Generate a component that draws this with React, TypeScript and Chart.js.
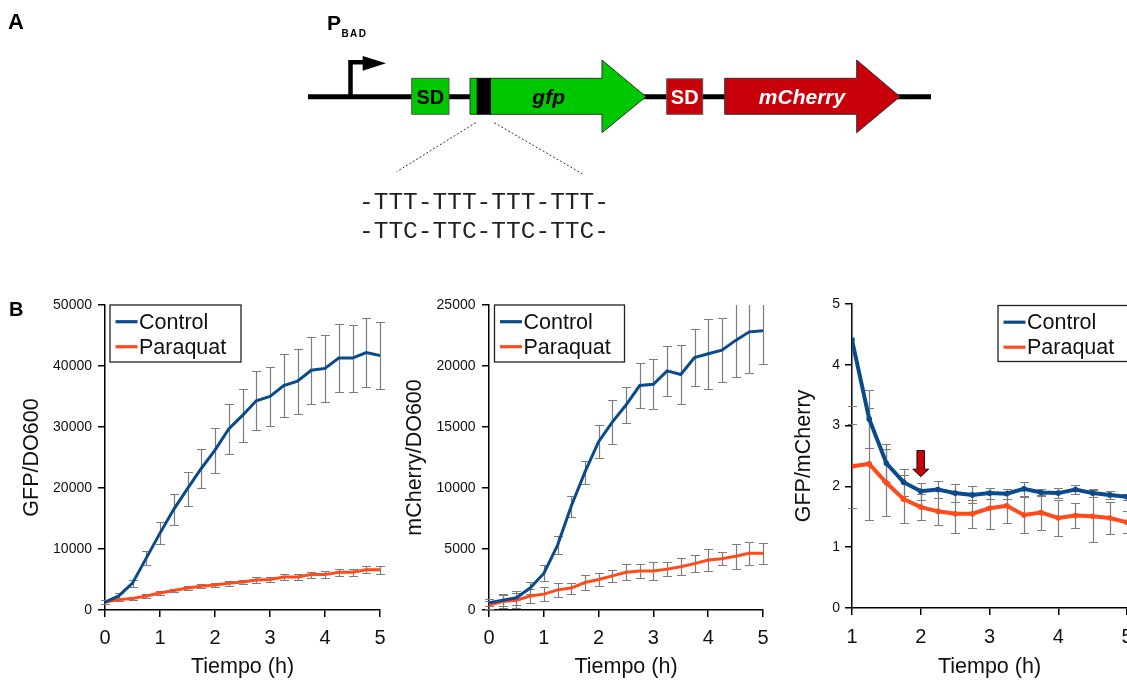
import React, { useEffect, useRef } from 'react';
import { Chart, registerables } from 'chart.js';

Chart.register(...registerables);

const FONT = '"Liberation Sans", Arial, Helvetica, sans-serif';
const CONTROL_COLOR = '#0B4A8B';
const PARAQUAT_COLOR = '#FF4A1C';
const ERR_COLOR = '#7d7d7d';

// ---------- data ----------
const seriesLabels = ['Control', 'Paraquat'];
const xAxisTitle = 'Tiempo (h)';

const timeH = [0, 0.25, 0.5, 0.75, 1, 1.25, 1.5, 1.75, 2, 2.25, 2.5, 2.75, 3, 3.25, 3.5, 3.75, 4, 4.25, 4.5, 4.75, 5];

const gfpControl = [1300, 2300, 4400, 8500, 12600, 16500, 19900, 23200, 26200, 29700, 31900, 34300, 35000, 36800, 37500, 39300, 39600, 41300, 41300, 42200, 41700];
const gfpControlErr = [300, 500, 600, 1100, 1800, 2500, 2800, 3200, 3700, 4100, 4400, 4800, 4900, 5200, 5300, 5500, 5500, 5600, 5500, 5650, 5550];
const gfpParaquat = [1300, 1700, 1900, 2300, 2800, 3200, 3600, 3900, 4100, 4400, 4600, 4900, 5000, 5400, 5400, 5800, 5800, 6200, 6200, 6600, 6600];
const gfpParaquatErr = [300, 300, 300, 300, 300, 300, 350, 350, 350, 400, 400, 450, 450, 450, 450, 500, 550, 550, 600, 600, 650];

const mchControl = [600, 800, 1000, 1800, 3000, 5300, 8500, 11300, 13800, 15400, 16800, 18400, 18500, 19600, 19300, 20700, 21000, 21300, 22100, 22800, 22900];
const mchControlErr = [300, 500, 550, 500, 650, 750, 850, 950, 1350, 1800, 1500, 1850, 2050, 2050, 2450, 2300, 2850, 2650, 3000, 3400, 2700];
const mchParaquat = [400, 700, 800, 1150, 1300, 1650, 1800, 2250, 2500, 2800, 3100, 3200, 3200, 3350, 3550, 3800, 4100, 4200, 4400, 4650, 4650];
const mchParaquatErr = [300, 500, 600, 600, 600, 550, 450, 600, 500, 500, 650, 600, 750, 550, 700, 700, 900, 550, 1000, 950, 850];

const ratioTimeH = [1, 1.25, 1.5, 1.75, 2, 2.25, 2.5, 2.75, 3, 3.25, 3.5, 3.75, 4, 4.25, 4.5, 4.75, 5];
const ratioControl = [4.41, 3.11, 2.38, 2.07, 1.92, 1.95, 1.89, 1.86, 1.89, 1.88, 1.96, 1.9, 1.89, 1.95, 1.89, 1.86, 1.83];
const ratioControlErr = [1.09, 0.48, 0.31, 0.22, 0.14, 0.14, 0.15, 0.14, 0.09, 0.08, 0.12, 0.05, 0.08, 0.08, 0.06, 0.06, 0.05];
const ratioParaquat = [2.33, 2.37, 2.06, 1.79, 1.66, 1.59, 1.55, 1.55, 1.64, 1.68, 1.53, 1.57, 1.48, 1.52, 1.51, 1.48, 1.41];
const ratioParaquatErr = [0.69, 0.92, 0.55, 0.4, 0.21, 0.22, 0.32, 0.23, 0.34, 0.28, 0.3, 0.29, 0.3, 0.2, 0.43, 0.26, 0.18];

// paraquat addition marker (x in h, arrow from / to in y units)
const markerTime = 2;
const markerFrom = 2.59;
const markerTo = 2.16;

const seqRow1 = '-TTT-TTT-TTT-TTT-';
const seqRow2 = '-TTC-TTC-TTC-TTC-';

// ---------- plugins ----------
const errorBarPlugin = {
  id: 'errorBars',
  beforeDatasetsDraw(chart: any) {
    const { ctx, chartArea, scales } = chart;
    const xs = scales.x;
    const ys = scales.y;
    ctx.save();
    ctx.beginPath();
    ctx.rect(0, chartArea.top, chart.width, chartArea.bottom - chartArea.top);
    ctx.clip();
    ctx.strokeStyle = ERR_COLOR;
    ctx.lineWidth = 1.2;
    chart.data.datasets.forEach((ds: any) => {
      const errs = ds.errors as number[] | undefined;
      if (!errs) return;
      ds.data.forEach((pt: any, i: number) => {
        const px = Math.round(xs.getPixelForValue(pt.x)) + 0.5;
        const top = Math.round(ys.getPixelForValue(pt.y + errs[i])) + 0.5;
        const bot = Math.round(ys.getPixelForValue(pt.y - errs[i])) + 0.5;
        const cap = 4.5;
        ctx.beginPath();
        ctx.moveTo(px, top);
        ctx.lineTo(px, bot);
        ctx.moveTo(px - cap, top);
        ctx.lineTo(px + cap, top);
        ctx.moveTo(px - cap, bot);
        ctx.lineTo(px + cap, bot);
        ctx.stroke();
      });
    });
    ctx.restore();
  },
};

const boxLegendPlugin = {
  id: 'boxLegend',
  afterDraw(chart: any, _args: any, opts: any) {
    if (!opts || !opts.show) return;
    const { ctx, chartArea } = chart;
    const x0 = opts.side === 'right' ? chartArea.right - opts.w + opts.dx : chartArea.left + opts.dx;
    const y0 = chartArea.top + opts.dy;
    ctx.save();
    ctx.fillStyle = '#ffffff';
    ctx.fillRect(x0, y0, opts.w, opts.h);
    ctx.strokeStyle = '#222222';
    ctx.lineWidth = 1.3;
    ctx.strokeRect(x0, y0, opts.w, opts.h);
    ctx.font = `21.5px ${FONT}`;
    ctx.textBaseline = 'middle';
    ctx.textAlign = 'left';
    chart.data.datasets.forEach((ds: any, i: number) => {
      const cy = y0 + 16.7 + i * 25;
      ctx.strokeStyle = ds.borderColor;
      ctx.lineWidth = 3.2;
      ctx.beginPath();
      ctx.moveTo(x0 + 5.5, cy);
      ctx.lineTo(x0 + 27.5, cy);
      ctx.stroke();
      ctx.fillStyle = '#111111';
      ctx.fillText(ds.label, x0 + 29, cy + 1);
    });
    ctx.restore();
  },
};

const markerArrowPlugin = {
  id: 'markerArrow',
  afterDatasetsDraw(chart: any, _args: any, opts: any) {
    if (!opts || !opts.show) return;
    const { ctx, scales } = chart;
    const cx = scales.x.getPixelForValue(opts.x);
    const top = scales.y.getPixelForValue(opts.from);
    const tip = scales.y.getPixelForValue(opts.to);
    const headTop = tip - 7.5;
    ctx.save();
    ctx.beginPath();
    ctx.moveTo(cx - 3.8, top);
    ctx.lineTo(cx + 3.8, top);
    ctx.lineTo(cx + 3.8, headTop);
    ctx.lineTo(cx + 8, headTop);
    ctx.lineTo(cx, tip);
    ctx.lineTo(cx - 8, headTop);
    ctx.lineTo(cx - 3.8, headTop);
    ctx.closePath();
    ctx.fillStyle = '#C8000A';
    ctx.fill();
    ctx.strokeStyle = '#111';
    ctx.lineWidth = 1;
    ctx.stroke();
    ctx.restore();
  },
};

// ---------- panel ----------
type Spec = {
  left: number; top: number; width: number; height: number;
  padding: { top: number; right: number; bottom: number; left: number };
  yWidth: number; xHeight: number;
  xMin: number; xMax: number; yMax: number; yStep: number;
  yTitle: string; yTitlePad: number; yLabelPad: number; xLabelPad: number;
  lineWidth: number; pointRadius: number;
  xs: number[]; control: number[]; controlErr: number[]; paraquat: number[]; paraquatErr: number[];
  legend: { side: string; dx: number; dy: number; w: number; h: number };
  arrow?: { x: number; from: number; to: number };
};

function Panel({ spec }: { spec: Spec }) {
  const ref = useRef<HTMLCanvasElement | null>(null);
  useEffect(() => {
    if (!ref.current) return;
    const mk = (vals: number[]) => spec.xs.map((x, i) => ({ x, y: vals[i] }));
    const chart = new Chart(ref.current, {
      type: 'line',
      data: {
        datasets: [
          {
            label: seriesLabels[0],
            data: mk(spec.control),
            errors: spec.controlErr,
            borderColor: CONTROL_COLOR,
            backgroundColor: CONTROL_COLOR,
            borderWidth: spec.lineWidth,
            pointRadius: spec.pointRadius,
            pointBorderWidth: 0,
            pointBackgroundColor: CONTROL_COLOR,
            tension: 0,
          } as any,
          {
            label: seriesLabels[1],
            data: mk(spec.paraquat),
            errors: spec.paraquatErr,
            borderColor: PARAQUAT_COLOR,
            backgroundColor: PARAQUAT_COLOR,
            borderWidth: spec.lineWidth,
            pointRadius: spec.pointRadius,
            pointBorderWidth: 0,
            pointBackgroundColor: PARAQUAT_COLOR,
            tension: 0,
          } as any,
        ],
      },
      options: {
        responsive: false,
        animation: false,
        events: [],
        layout: { padding: spec.padding },
        plugins: {
          legend: { display: false },
          tooltip: { enabled: false },
          boxLegend: { show: true, ...spec.legend },
          markerArrow: spec.arrow ? { show: true, ...spec.arrow } : { show: false },
        } as any,
        scales: {
          x: {
            type: 'linear',
            min: spec.xMin,
            max: spec.xMax,
            ticks: {
              stepSize: 1,
              color: '#111',
              font: { size: 20, family: FONT },
              padding: spec.xLabelPad,
              callback: (v: any) => String(v),
            },
            grid: { display: true, drawOnChartArea: false, drawTicks: true, tickLength: 7, color: '#000', lineWidth: 1.5 },
            border: { display: true, color: '#000', width: 1.5 },
            title: {
              display: true,
              text: xAxisTitle,
              color: '#111',
              font: { size: 21.5, family: FONT },
              padding: { top: 0, bottom: 0 },
            },
            afterFit: (s: any) => { s.height = spec.xHeight; },
          },
          y: {
            type: 'linear',
            min: 0,
            max: spec.yMax,
            ticks: {
              stepSize: spec.yStep,
              color: '#111',
              font: { size: 14, family: FONT },
              padding: spec.yLabelPad,
              callback: (v: any) => String(v),
            },
            grid: { display: true, drawOnChartArea: false, drawTicks: true, tickLength: 7, color: '#000', lineWidth: 1.5 },
            border: { display: true, color: '#000', width: 1.5 },
            title: {
              display: true,
              text: spec.yTitle,
              color: '#111',
              font: { size: 21.5, family: FONT },
              padding: { top: spec.yTitlePad, bottom: 0 },
            },
            afterFit: (s: any) => { s.width = spec.yWidth; },
          },
        },
      } as any,
      plugins: [errorBarPlugin, boxLegendPlugin, markerArrowPlugin],
    });
    return () => chart.destroy();
  }, [spec]);
  return (
    <canvas
      ref={ref}
      width={spec.width}
      height={spec.height}
      style={{ position: 'absolute', left: spec.left, top: spec.top, width: spec.width, height: spec.height }}
    />
  );
}

const gfpSpec: Spec = {
  left: 0, top: 290, width: 400, height: 390,
  padding: { top: 15, right: 20, bottom: 0, left: 0 },
  yWidth: 105, xHeight: 70,
  xMin: 0, xMax: 5, yMax: 50000, yStep: 10000,
  yTitle: 'GFP/DO600', yTitlePad: 19, yLabelPad: 6, xLabelPad: 9,
  lineWidth: 3, pointRadius: 0,
  xs: timeH, control: gfpControl, controlErr: gfpControlErr, paraquat: gfpParaquat, paraquatErr: gfpParaquatErr,
  legend: { side: 'left', dx: 5, dy: 0, w: 131, h: 57 },
};

const mchSpec: Spec = {
  left: 380, top: 290, width: 400, height: 390,
  padding: { top: 15, right: 17, bottom: 0, left: 0 },
  yWidth: 109, xHeight: 70,
  xMin: 0, xMax: 5, yMax: 25000, yStep: 5000,
  yTitle: 'mCherry/DO600', yTitlePad: 22, yLabelPad: 6.5, xLabelPad: 9,
  lineWidth: 3, pointRadius: 0,
  xs: timeH, control: mchControl, controlErr: mchControlErr, paraquat: mchParaquat, paraquatErr: mchParaquatErr,
  legend: { side: 'left', dx: 5.5, dy: 0, w: 130, h: 57 },
};

const ratioSpec: Spec = {
  left: 780, top: 290, width: 367, height: 390,
  padding: { top: 14, right: 20, bottom: 0, left: 0 },
  yWidth: 72, xHeight: 72,
  xMin: 1, xMax: 5, yMax: 5, yStep: 1,
  yTitle: 'GFP/mCherry', yTitlePad: 11, yLabelPad: 5, xLabelPad: 10,
  lineWidth: 4, pointRadius: 2.8,
  xs: ratioTimeH, control: ratioControl, controlErr: ratioControlErr, paraquat: ratioParaquat, paraquatErr: ratioParaquatErr,
  legend: { side: 'right', dx: 1, dy: 1.5, w: 130, h: 56 },
  arrow: { x: markerTime, from: markerFrom, to: markerTo },
};

function Construct() {
  const green = '#00C800';
  const red = '#C8000A';
  return (
    <svg width={1127} height={681} style={{ position: 'absolute', left: 0, top: 0, pointerEvents: 'none' }}>
      <text x={8} y={28.5} fontFamily={FONT} fontWeight="bold" fontSize={22} fill="#000">A</text>
      <text x={9} y={316} fontFamily={FONT} fontWeight="bold" fontSize={20} fill="#000">B</text>

      <text x={327} y={30} fontFamily={FONT} fontWeight="bold" fontSize={21} fill="#000">P</text>
      <text x={341.5} y={36.7} fontFamily={FONT} fontWeight="bold" fontSize={10} letterSpacing={1.4} fill="#000">BAD</text>

      <line x1={308} y1={96.7} x2={931} y2={96.7} stroke="#000" strokeWidth={5} />
      <polyline points="350.5,97 350.5,62.3 366,62.3" fill="none" stroke="#000" strokeWidth={4.5} />
      <polygon points="362.7,56 386,63.3 362.7,70.7" fill="#000" />

      <rect x={411.7} y={78.3} width={37.3} height={36} fill={green} stroke="#555" strokeWidth={1} />
      <text x={430.3} y={103.8} textAnchor="middle" fontFamily={FONT} fontWeight="bold" fontSize={20} fill="#000">SD</text>

      <polygon points="470,78.3 602,78.3 602,60 646,96.7 602,132.7 602,114.3 470,114.3" fill={green} stroke="#333" strokeWidth={1} />
      <rect x={476.7} y={78.3} width={14.3} height={36} fill="#000" />
      <text x={548.7} y={104} textAnchor="middle" fontFamily={FONT} fontWeight="bold" fontStyle="italic" fontSize={21} fill="#000">gfp</text>

      <rect x={666.7} y={78.8} width={36} height={35.5} fill={red} stroke="#555" strokeWidth={1} />
      <text x={684.7} y={104} textAnchor="middle" fontFamily={FONT} fontWeight="bold" fontSize={20} fill="#fff">SD</text>

      <polygon points="724.7,78.3 856.7,78.3 856.7,60 900,96.7 856.7,132.7 856.7,114.3 724.7,114.3" fill={red} stroke="#333" strokeWidth={1} />
      <text x={802} y={104} textAnchor="middle" fontFamily={FONT} fontWeight="bold" fontStyle="italic" fontSize={21} fill="#fff">mCherry</text>

      <line x1={475.7} y1={122.7} x2={396.7} y2={171.7} stroke="#333" strokeWidth={1} strokeDasharray="2 2" />
      <line x1={494.3} y1={122.7} x2={582.7} y2={174} stroke="#333" strokeWidth={1} strokeDasharray="2 2" />

      <text x={359} y={209.3} fontFamily='"Liberation Mono", "DejaVu Sans Mono", monospace' fontSize={24.5} fill="#222">{seqRow1}</text>
      <text x={359} y={238.3} fontFamily='"Liberation Mono", "DejaVu Sans Mono", monospace' fontSize={24.5} fill="#222">{seqRow2}</text>
    </svg>
  );
}

export default function App() {
  return (
    <div style={{ position: 'absolute', left: 0, top: 0, width: 1127, height: 681, overflow: 'hidden', background: '#fff' }}>
      <Panel spec={gfpSpec} />
      <Panel spec={mchSpec} />
      <Panel spec={ratioSpec} />
      <Construct />
    </div>
  );
}
